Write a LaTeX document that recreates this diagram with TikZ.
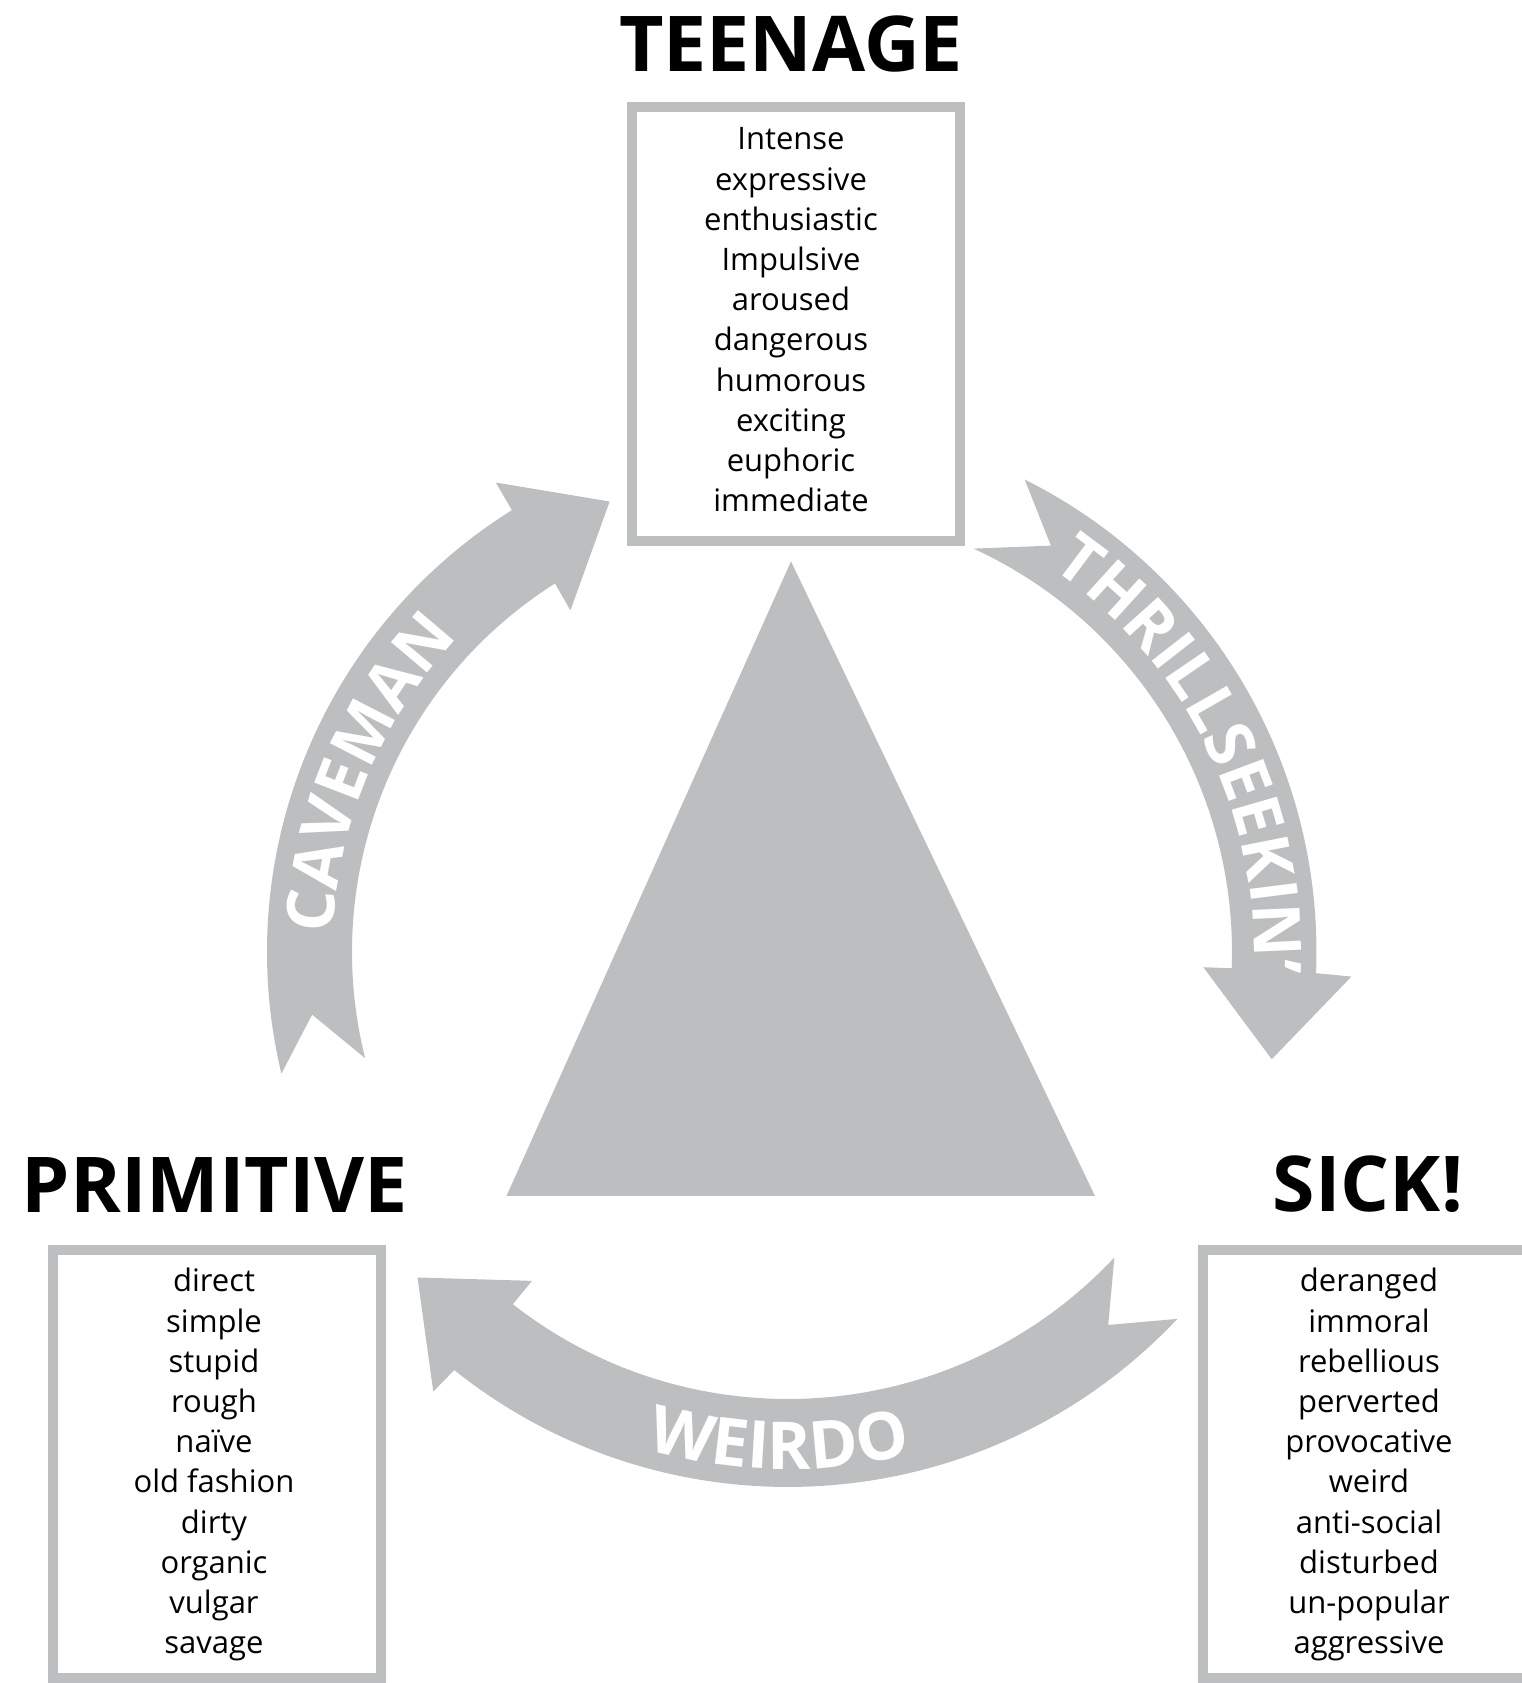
\documentclass[tikz,border=0pt]{standalone}
\usepackage{fontspec}
\setmainfont{Open Sans}
\usetikzlibrary{decorations.text}
\definecolor{ringgray}{RGB}{188,190,192}
\newcommand\wordfont{\fontsize{31}{31}\selectfont}
\newcommand\headfont{\fontsize{77}{77}\selectfont\bfseries}
\newcommand\ringfont{\fontsize{66}{66}\selectfont\bfseries}
\begin{document}
\begin{tikzpicture}[x=1pt,y=1pt,
  wordbox/.style={draw=ringgray, line width=10pt, inner sep=0pt},
  word/.style={anchor=base, inner sep=0pt, font=\wordfont},
  title/.style={anchor=base, inner sep=0pt, font=\headfont},
  ringarrow/.style={fill=ringgray}]
\useasboundingbox (0,0) rectangle (1521,1683);

% central triangle
\fill[ringgray] (791,1121.6) -- (506.6,487.2) -- (1094.9,487.2) -- cycle;

% word boxes
\node[wordbox, minimum width=328pt, minimum height=434pt] (teenbox) at (796,1358.5) {};
\node[wordbox, minimum width=327.7pt, minimum height=428pt] (primbox) at (217.2,219) {};
\node[wordbox, minimum width=336.7pt, minimum height=428pt] (sickbox) at (1371.7,219) {};

% titles
\node[title] (teenage) at (791,1611) {TEENAGE};
\node[title] (primitive) at (215,470) {PRIMITIVE};
\node[title] (sick) at (1368,471) {SICK!};

% word lists
\foreach \w [count=\i] in {Intense,expressive,enthusiastic,Impulsive,aroused,dangerous,humorous,exciting,euphoric,immediate}
  \node[word] (teen\i) at (791,{1533-40.2*(\i-1)}) {\w};
\foreach \w [count=\i] in {direct,simple,stupid,rough,naïve,old fashion,dirty,organic,vulgar,savage}
  \node[word] (prim\i) at (214,{391-40.2*(\i-1)}) {\w};
\foreach \w [count=\i] in {deranged,immoral,rebellious,perverted,provocative,weird,anti-social,disturbed,un-popular,aggressive}
  \node[word] (sick\i) at (1369,{391-40.2*(\i-1)}) {\w};

% curved arrows around the centre
\begin{scope}[shift={(788,731)}]
  % CAVEMAN
  \fill[ringarrow] (193.5:521) -- (187.5:480) -- (194.1:436)
    arc[start angle=194.1, end angle=122.3, radius=436]
    -- (122.5:405) -- (111.6:484.5) -- (121.9:553) -- (122:521)
    arc[start angle=122, end angle=193.5, radius=521] -- cycle;
  % THRILLSEEKIN'
  \fill[ringarrow] (63.4:528.5) -- (57.1:484) -- (65.3:444)
    arc[start angle=65.3, end angle=-2.1, radius=444]
    -- (-2.1:415.6) -- (-12.5:495.5) -- (-2.5:564) -- (-2.3:528.5)
    arc[start angle=-2.3, end angle=63.4, radius=528.5] -- cycle;
  % WEIRDO
  \fill[ringarrow] (-43.3:535) -- (-49.35:491.6) -- (-43.1:447)
    arc[start angle=-43.1, end angle=-128, radius=447]
    -- (-127.9:416.8) -- (-138.7:493.2) -- (-128.9:564.9) -- (-128.6:535)
    arc[start angle=-128.6, end angle=-43.3, radius=535] -- cycle;

  % labels on the arrows
  \path[decorate, decoration={text along path, text={|\ringfont|CAVEMAN}, text align=center, text color=white}]
    (201:455) arc[start angle=201, end angle=113, radius=455];
  \path[decorate, decoration={text along path, text={|\ringfont|THRILLSEEKIN'}, text align=center, text color=white}]
    (75:466) arc[start angle=75, end angle=-22, radius=466];
  \path[decorate, decoration={text along path, text={|\ringfont|WEIRDO}, text align=center, text color=white}]
    (-132:517) arc[start angle=-132, end angle=-50, radius=517];
\end{scope}
\end{tikzpicture}
\end{document}
